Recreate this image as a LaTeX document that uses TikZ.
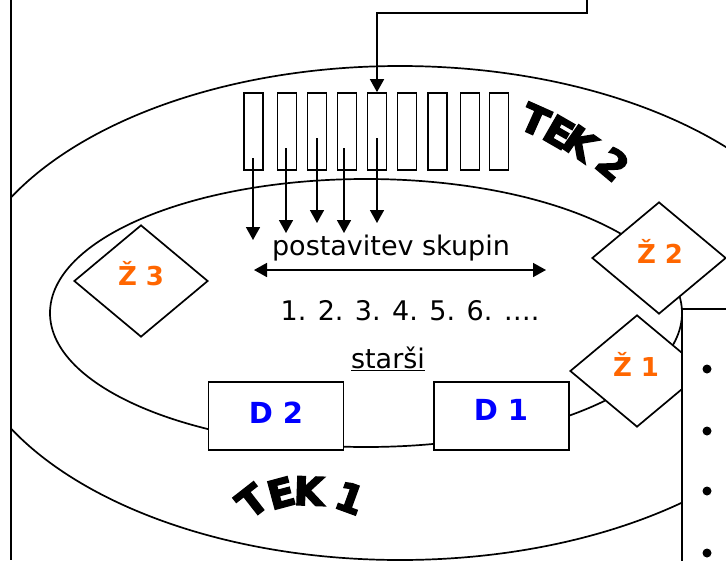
\documentclass[tikz,border=0pt]{standalone}
\usepackage{fontspec}
\setmainfont{DejaVu Sans}
\newfontfamily\tekfont[FakeBold=4]{DejaVu Sans}
\usetikzlibrary{shapes}
\usetikzlibrary{shapes.geometric}
\usetikzlibrary{arrows.meta}
\usepackage{xcolor}
\definecolor{zorange}{HTML}{FF6600}
\definecolor{dblue}{HTML}{0000FF}

\tikzset{
    slot/.style={draw, fill=white, minimum width=19pt, minimum height=77pt, inner sep=0pt},
    zone/.style={diamond, draw, fill=white, minimum width=134pt, minimum height=112pt, shape aspect=1.2, inner sep=0pt},
    ztxt/.style={color=zorange, font=\fontsize{26}{30}\selectfont\bfseries, anchor=base, inner sep=0pt},
    dbox/.style={draw, fill=white, minimum width=135pt, minimum height=68pt, inner sep=0pt},
    dtxt/.style={color=dblue, font=\fontsize{29}{33}\selectfont\bfseries, anchor=base, inner sep=0pt},
    txt/.style={font=\fontsize{27}{32}\selectfont, anchor=base, inner sep=0pt},
    tek/.style={font=\tekfont\fontsize{39}{42}\selectfont\bfseries, inner sep=0pt},
    arr/.style={-{Triangle[length=13pt,width=14pt]}},
    dot/.style={circle, fill=black, minimum size=9pt, inner sep=0pt},
}

\begin{document}
\begin{tikzpicture}[x=1pt, y=-1pt, line width=1.7pt]
    \def\sy{93}
    \def\sh{77}
    \useasboundingbox (0,0) rectangle (726,560);
    \clip (0,0) rectangle (726,560);
    % ellipses
    \begin{scope}
        \clip (11,0) rectangle (726,560);
        \draw (400,313) ellipse [x radius=440, y radius=247];
        \draw (366,313) ellipse [x radius=316, y radius=134];
    \end{scope}
    \draw (11,0) -- (11,560);
    % slots
    \foreach \n/\x in {1/253.5, 2/287, 3/317, 4/347, 5/377, 6/407, 7/437.5, 8/470, 9/499}
        \node[slot] (s\n) at (\x,\sy+0.5*\sh) {};
    \coordinate (src) at (587,0);
    \coordinate (knee) at (587,13);
    \draw[arr] (src) -- (knee) -| (s5.north);
    \foreach \n/\x/\a/\b in {1/253/158/240, 2/286/148/233, 3/317/138/223, 4/344/148/233, 5/377/138/223}{
        \coordinate (a\n) at (\x,\a);
        \coordinate (b\n) at (\x,\b);
        \draw[arr] (a\n) -- (b\n);
    }
    \node[txt] (grp) at (391,255) {postavitev skupin};
    \coordinate (gl) at (254,270);
    \coordinate (gr) at (546,270);
    \draw[{Triangle[length=13pt,width=14pt]}-{Triangle[length=13pt,width=14pt]}] (gl) -- (gr);
    \node[txt] (num) at (410,320) {1. 2. 3. 4. 5. 6. ….};
    \node[txt] (par) at (388,368) {\underline{starši}};
    % parents
    \node[dbox] (d2) at (276,416) {};
    \node[dbox] (d1) at (501.5,416) {};
    \node[dtxt] (d2t) at (276,423) {D 2};
    \node[dtxt] (d1t) at (501,420) {D 1};
    % zones
    \node[zone] (z3) at (141,281) {};
    \node[zone] (z2) at (659,258) {};
    \node[zone] (z1) at (637,371) {};
    \node[ztxt] (z3t) at (141,285) {Ž 3};
    \node[ztxt] (z2t) at (660,263) {Ž 2};
    \node[ztxt] (z1t) at (636,376) {Ž 1};
    % right panel
    \draw[fill=white] (682,309) rectangle (740,580);
    \foreach \n/\y in {1/369, 2/431, 3/491, 4/553}
        \node[dot] (p\n) at (707,\y) {};
    % curved labels
    \node[tek, rotate=-24] (t2a) at (535,120) {T};
    \node[tek, rotate=-30] (t2b) at (559,132) {E};
    \node[tek, rotate=-35] (t2c) at (580,143) {K};
    \node[tek, rotate=-40] (t2d) at (613,164) {2};
    \node[tek, rotate=38] (t1a) at (252,501) {T};
    \node[tek, rotate=15] (t1b) at (281,493) {E};
    \node[tek, rotate=-2] (t1c) at (309,491) {K};
    \node[tek, rotate=-20] (t1d) at (350,498) {1};
\end{tikzpicture}
\end{document}
